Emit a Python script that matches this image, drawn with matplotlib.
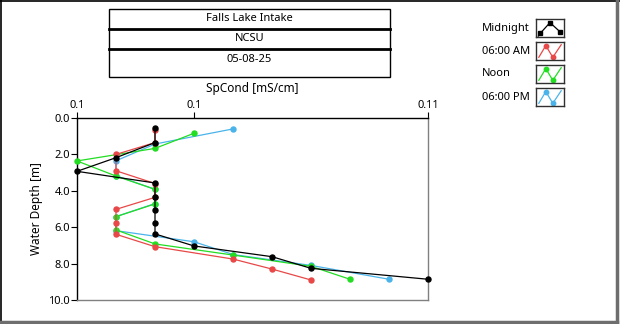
import matplotlib.pyplot as plt
from matplotlib.patches import Rectangle
from matplotlib.lines import Line2D

plt.rcParams['font.family'] = ['Noto Sans', 'DejaVu Sans']

# specific conductance profiles [mS/cm] vs depth [m]
mid_depth = [0.57, 1.35, 2.18, 2.93, 3.57, 4.36, 5.05, 5.77, 6.37, 7.03, 7.62, 8.26, 8.86]
mid_cond = [0.101, 0.101, 0.100, 0.099, 0.101, 0.101, 0.101, 0.101, 0.101, 0.102, 0.104, 0.105, 0.108]

am_depth = [0.66, 1.35, 2.0, 2.9, 3.6, 4.36, 5.02, 5.75, 6.39, 7.07, 7.75, 8.3, 8.9]
am_cond = [0.101, 0.101, 0.100, 0.100, 0.101, 0.101, 0.100, 0.100, 0.100, 0.101, 0.103, 0.104, 0.105]

noon_depth = [0.84, 1.67, 2.36, 3.19, 3.92, 4.72, 5.42, 6.15, 6.92, 7.53, 8.15, 8.86]
noon_cond = [0.102, 0.101, 0.099, 0.100, 0.101, 0.101, 0.100, 0.100, 0.101, 0.103, 0.105, 0.106]

pm_depth = [0.6, 1.43, 2.35, 3.17, 3.92, 4.7, 5.42, 6.19, 6.8, 7.5, 8.1, 8.86]
pm_cond = [0.103, 0.101, 0.100, 0.100, 0.101, 0.101, 0.100, 0.100, 0.102, 0.103, 0.105, 0.107]

series_names = ['Midnight', '06:00 AM', 'Noon', '06:00 PM']
series_colors = ['#000000', '#e84848', '#22dd22', '#4ab4ea']

title_lines = ['Falls Lake Intake', 'NCSU', '05-08-25']

xticks = [0.099, 0.102, 0.108]
xtick_labels = ['0.1', '0.1', '0.11']
yticks = [0, 2, 4, 6, 8, 10]

W, H = 620, 324
fig = plt.figure(figsize=(W / 100, H / 100), dpi=100)


def fx(px):
    return px / W


def fy(py):
    return 1 - py / H


# window frame
fig.add_artist(Line2D([0, 1], [fy(0.5), fy(0.5)], color='black', lw=1.2))
fig.add_artist(Line2D([fx(0.5), fx(0.5)], [0, 1], color='black', lw=1.2))
fig.add_artist(Line2D([fx(617), fx(617)], [fy(0), fy(322)], color='#6e6e6e', lw=2.5))
fig.add_artist(Line2D([fx(0), fx(617)], [fy(322), fy(322)], color='#6e6e6e', lw=2.5))

# title block
bx0, bx1, by0, by1 = 109, 390, 9, 77
fig.add_artist(Rectangle((fx(bx0), fy(by1)), fx(bx1 - bx0), (by1 - by0) / H,
                         fill=False, ec='black', lw=1.0))
for yy in (28.5, 48.5):
    fig.add_artist(Line2D([fx(bx0), fx(bx1)], [fy(yy), fy(yy)], color='black', lw=2.0))
for txt, yy in zip(title_lines, (18.5, 38.5, 59)):
    fig.text(fx((bx0 + bx1) / 2), fy(yy), txt, ha='center', va='center', fontsize=8)

# main plot
ax = fig.add_axes([fx(77), fy(300), fx(428 - 77), (300 - 118) / H])
ax.set_xlim(0.099, 0.108)
ax.set_ylim(10, 0)
ax.xaxis.tick_top()
ax.xaxis.set_label_position('top')
ax.set_xticks(xticks)
ax.set_xticklabels(xtick_labels)
ax.set_yticks(yticks)
ax.set_yticklabels([f'{v:.1f}' for v in yticks])
ax.tick_params(labelsize=8, length=4, width=0.8, pad=1)
ax.set_xlabel('SpCond [mS/cm]', fontsize=8.5, labelpad=6)
ax.set_ylabel('Water Depth [m]', fontsize=8.5, labelpad=4)
for s in ('top', 'left'):
    ax.spines[s].set_color('black')
    ax.spines[s].set_linewidth(1.0)
for s in ('bottom', 'right'):
    ax.spines[s].set_color('#808080')
    ax.spines[s].set_linewidth(1.0)

profiles = [(mid_cond, mid_depth), (am_cond, am_depth),
            (noon_cond, noon_depth), (pm_cond, pm_depth)]
for i in (3, 2, 1, 0):
    c, d = profiles[i]
    ax.plot(c, d, color=series_colors[i], lw=0.9, marker='o', ms=3.6,
            clip_on=False, zorder=3 + (3 - i))

# legend with little plot icons
row_y = [28, 51, 74, 97]
for name, col, yy in zip(series_names, series_colors, row_y):
    fig.text(fx(482), fy(yy), name, ha='left', va='center', fontsize=8)
    iax = fig.add_axes([fx(536), fy(yy + 9), fx(28), 18 / H])
    iax.set_xlim(0, 1)
    iax.set_ylim(0, 1)
    iax.set_xticks([])
    iax.set_yticks([])
    for s in iax.spines.values():
        s.set_linewidth(1.0)
        s.set_color('#303030')
    if name == 'Midnight':
        iax.plot([0.15, 0.5, 0.85], [0.2, 0.8, 0.3], color=col, lw=0.9,
                 marker='s', ms=2.8)
        iax.plot([0.08, 0.15], [0.05, 0.2], color=col, lw=0.9)
    else:
        iax.plot([0.1, 0.35, 0.6, 0.9], [0.15, 0.8, 0.15, 0.85], color=col,
                 lw=0.9)
        iax.plot([0.35, 0.6], [0.8, 0.15], ls='none', marker='o', ms=3.2,
                 color=col)

fig.savefig('out.png', dpi=100)
